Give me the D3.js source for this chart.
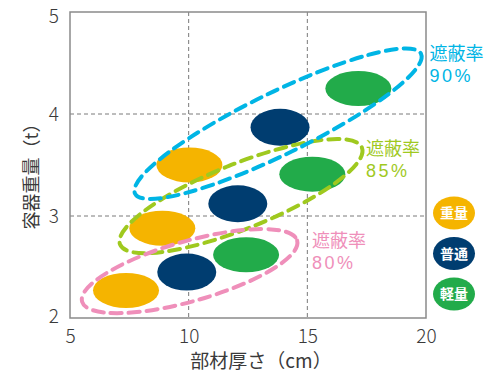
<!DOCTYPE html>
<html><head><meta charset="utf-8">
<script src="https://cdn.jsdelivr.net/npm/d3@7"></script>
<style>
html,body{margin:0;padding:0;background:#fff;}
text{font-family:"Noto Sans CJK JP","Noto Sans",sans-serif;}
</style></head>
<body><svg id="c" width="484" height="378"></svg>
<script>
// ---- data ----
const categories = ["重量", "普通", "軽量"];
const thicknessHeavy  = [7.36, 8.89, 10.03];
const weightHeavy     = [2.27, 2.88, 3.50];
const thicknessNormal = [9.92, 12.07, 13.85];
const weightNormal    = [2.45, 3.12, 3.87];
const thicknessLight  = [12.42, 15.21, 17.15];
const weightLight     = [2.62, 3.41, 4.25];
const shieldLabels = ["80%", "85%", "90%"];
// enclosing outline ends (data units) per shielding group
const groupStartX = [5.51, 7.11, 7.74];
const groupStartY = [2.16, 2.72, 3.22];
const groupEndX   = [14.57, 17.30, 19.79];
const groupEndY   = [2.76, 3.67, 4.59];
// label anchors (data units)
const labelX = [15.20, 17.47, 20.15];
const labelY = [2.70, 3.60, 4.53];
const xTicks = [5, 10, 15, 20];
const yTicks = [2, 3, 4, 5];

// ---- styles ----
const catColors = ["#f5b400", "#003d70", "#22ab4a"];
const catRx = [33, 29.5, 33];
const catRy = [17.5, 18.5, 17.5];
const groupColors = ["#ef8fba", "#9fc91f", "#00b5e5"];
const groupHalfW = [30, 32.5, 31];
const textColor = "#3a3a3a";

const svg = d3.select("#c");
const x = d3.scaleLinear().domain([5, 20]).range([70, 426]);
const y = d3.scaleLinear().domain([2, 5]).range([318, 12]);

// grid
svg.append("g").selectAll("line").data([10, 15]).join("line")
  .attr("x1", d => x(d)).attr("x2", d => x(d)).attr("y1", y(5)).attr("y2", y(2))
  .attr("stroke", "#7a7a7a").attr("stroke-width", 1).attr("stroke-dasharray", "4,3");
svg.append("g").selectAll("line").data([3, 4]).join("line")
  .attr("x1", x(5)).attr("x2", x(20)).attr("y1", d => y(d)).attr("y2", d => y(d))
  .attr("stroke", "#7a7a7a").attr("stroke-width", 1).attr("stroke-dasharray", "4,3");

// frame
svg.append("rect").attr("x", x(5)).attr("y", y(5))
  .attr("width", x(20) - x(5)).attr("height", y(2) - y(5))
  .attr("fill", "none").attr("stroke", "#8a8a8a").attr("stroke-width", 1.5);

// axes
const xa = svg.append("g").attr("transform", `translate(0,${y(2)})`)
  .call(d3.axisBottom(x).tickValues(xTicks).tickFormat(d3.format("d")).tickSize(0).tickPadding(12));
const ya = svg.append("g").attr("transform", `translate(${x(5)},0)`)
  .call(d3.axisLeft(y).tickValues(yTicks).tickFormat(d3.format("d")).tickSize(0).tickPadding(11));
[xa, ya].forEach(a => {
  a.select(".domain").remove();
  a.selectAll("text").attr("font-size", 19).attr("fill", textColor).attr("font-weight", 300);
});
ya.selectAll(".tick").filter(d => d === 5).select("text").attr("y", 4);
ya.selectAll(".tick").filter(d => d === 2).select("text").attr("y", -2);

// blobs
const series = [
  {xs: thicknessHeavy, ys: weightHeavy},
  {xs: thicknessNormal, ys: weightNormal},
  {xs: thicknessLight, ys: weightLight}
];
const pts = [];
series.forEach((s, ci) => s.xs.forEach((v, i) => pts.push({c: ci, x: v, y: s.ys[i]})));
svg.append("g").selectAll("ellipse").data(pts).join("ellipse")
  .attr("cx", d => x(d.x)).attr("cy", d => y(d.y))
  .attr("rx", d => catRx[d.c]).attr("ry", d => catRy[d.c])
  .attr("fill", d => catColors[d.c]);

// group outlines
const order = [1, 0, 2];
order.forEach(g => {
  const x1 = x(groupStartX[g]), y1 = y(groupStartY[g]);
  const x2 = x(groupEndX[g]), y2 = y(groupEndY[g]);
  const cx = (x1 + x2) / 2, cy = (y1 + y2) / 2;
  const len = Math.hypot(x2 - x1, y2 - y1) / 2;
  const ang = Math.atan2(y2 - y1, x2 - x1) * 180 / Math.PI;
  svg.append("ellipse")
    .attr("transform", `translate(${cx},${cy}) rotate(${ang})`)
    .attr("rx", len).attr("ry", groupHalfW[g])
    .attr("fill", "none").attr("stroke", groupColors[g])
    .attr("stroke-width", 4).attr("stroke-dasharray", "11,7")
    .attr("stroke-linecap", "round");
});

// group labels
shieldLabels.forEach((lab, g) => {
  svg.append("text").attr("x", x(labelX[g])).attr("y", y(labelY[g]))
    .attr("fill", groupColors[g]).attr("font-size", 18).text("遮蔽率");
  svg.append("text").attr("x", x(labelX[g])).attr("y", y(labelY[g]) + 22)
    .attr("fill", groupColors[g]).attr("font-size", 18)
    .style("font-family", "'Liberation Sans',Arial,sans-serif")
    .attr("letter-spacing", 2.5).text(lab);
});

// legend
const lg = svg.append("g").selectAll("g").data(categories).join("g")
  .attr("transform", (d, i) => `translate(454,${213 + i * 40.5})`);
lg.append("ellipse").attr("rx", 21).attr("ry", 16.5).attr("fill", (d, i) => catColors[i]);
lg.append("text").attr("text-anchor", "middle").attr("dy", "0.36em")
  .attr("font-size", 14).attr("font-weight", 700).attr("fill", "#fff").text(d => d);

// titles
svg.append("text").attr("x", 261).attr("y", 368).attr("text-anchor", "middle")
  .attr("font-size", 19).attr("fill", textColor).text("部材厚さ（cm）");
svg.append("text").attr("transform", "translate(38,172) rotate(-90)")
  .attr("text-anchor", "middle").attr("font-size", 18).attr("fill", textColor)
  .text("容器重量（t）");
</script></body></html>
